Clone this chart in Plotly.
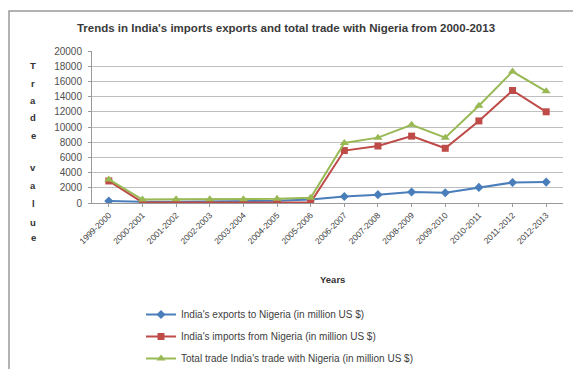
import plotly.graph_objects as go

years = ["1999-2000", "2000-2001", "2001-2002", "2002-2003", "2003-2004", "2004-2005",
         "2005-2006", "2006-2007", "2007-2008", "2008-2009", "2009-2010", "2010-2011",
         "2011-2012", "2012-2013"]
exports = [250, 150, 180, 200, 250, 300, 450, 850, 1100, 1450, 1350, 2050, 2700, 2750]
imports = [2900, 80, 80, 80, 80, 80, 80, 6900, 7500, 8800, 7200, 10800, 14800, 12000]
total = [3100, 450, 500, 500, 500, 550, 700, 7900, 8600, 10300, 8600, 12800, 17300, 14700]
y_ticks = list(range(0, 20001, 2000))

names = ["India's exports to Nigeria (in million US $)",
         "India's imports from Nigeria (in million US $)",
         "Total trade India's trade with Nigeria (in million US $)"]

FONT = "Liberation Sans"
W, H = 573, 369
L, R, T, B = 92, 10, 51, 166
PW, PH = W - L - R, H - T - B


def px(x):
    return (x - L) / PW


def py(y):
    return (H - B - y) / PH


fig = go.Figure()
fig.add_trace(go.Scatter(x=years, y=exports, name=names[0], mode="lines+markers", legendgroup="a",
                         line=dict(color="#4A7EBB", width=2),
                         marker=dict(symbol="diamond", size=7, color="#4A7EBB")))
fig.add_trace(go.Scatter(x=years, y=imports, name=names[1], mode="lines+markers", legendgroup="b",
                         line=dict(color="#BE4B48", width=2),
                         marker=dict(symbol="square", size=7, color="#BE4B48")))
fig.add_trace(go.Scatter(x=years, y=total, name=names[2], mode="lines+markers", legendgroup="c",
                         line=dict(color="#98B954", width=2),
                         marker=dict(symbol="triangle-up", size=8, color="#98B954")))

fig.update_layout(
    width=W, height=H,
    margin=dict(l=L, r=R, t=T, b=B, autoexpand=False),
    paper_bgcolor="white", plot_bgcolor="white",
    font=dict(family=FONT, size=9, color="#404040"),
    title=dict(text="<b>Trends in India's imports exports and total trade with Nigeria from 2000-2013</b>",
               x=286 / W, xanchor="center", xref="container", yref="container",
               y=1 - 28 / H, yanchor="middle",
               font=dict(size=11.5, color="#3a3a3a")),
    showlegend=True,
    legend=dict(x=px(141), y=py(300), xanchor="left", yanchor="top", orientation="v",
                traceorder="grouped", itemwidth=30,
                font=dict(size=10, color="#404040"), tracegroupgap=3,
                bgcolor="rgba(0,0,0,0)"),
    xaxis=dict(type="category", range=[-0.5, 13.5], tickangle=-45, automargin=False,
               showgrid=False, showline=True, linecolor="#999999", linewidth=1,
               ticks="outside", ticklen=3, tickcolor="#999999",
               tickfont=dict(size=8.5, color="#404040")),
    yaxis=dict(range=[0, 20000], tickvals=y_ticks, tickformat="d", showgrid=True, gridcolor="#BFBFBF",
               gridwidth=1, showline=True, linecolor="#999999", zeroline=False, automargin=False,
               ticks="outside", ticklen=3, tickcolor="#999999", ticklabelstandoff=4,
               tickfont=dict(size=10, color="#505050")),
)

# x-axis title
fig.add_annotation(text="<b>Years</b>", xref="paper", yref="paper", x=px(332), y=py(279),
                   xanchor="center", yanchor="middle", showarrow=False,
                   font=dict(size=9.5, color="#333333"))

# vertical stacked y-axis title letters (Excel style)
letters = ["T", "r", "a", "d", "e", "v", "a", "l", "u", "e"]
letter_y = [65, 83, 100, 117, 135, 167, 185, 203, 222, 238]
for ch, yy in zip(letters, letter_y):
    fig.add_annotation(text="<b>" + ch + "</b>", xref="paper", yref="paper", x=px(33), y=py(yy),
                       xanchor="center", yanchor="middle", showarrow=False,
                       font=dict(size=9.5, color="#333333"))

# chart frame (left and top edges visible)
fig.add_shape(type="rect", xref="paper", yref="paper", x0=px(9), x1=px(620), y0=py(420), y1=py(11),
              line=dict(color="#999999", width=1.5), fillcolor="rgba(0,0,0,0)", layer="below")

fig.write_html("out.html", config={"displayModeBar": False},
               post_script="document.body.style.margin='0px';document.body.style.overflow='hidden';")
